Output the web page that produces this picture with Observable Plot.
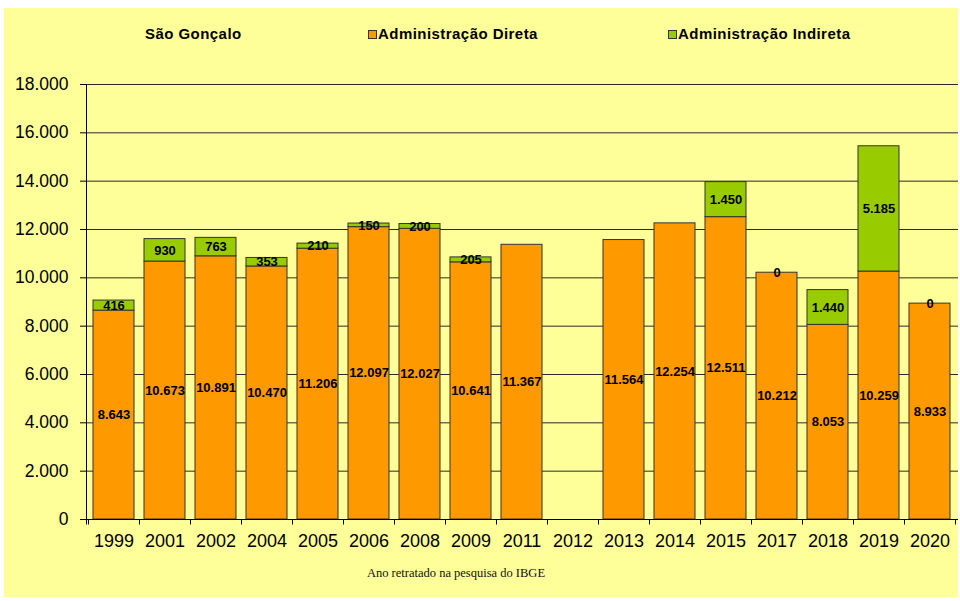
<!DOCTYPE html>
<html><head><meta charset="utf-8">
<script src="https://cdn.jsdelivr.net/npm/d3@7"></script>
<script src="https://cdn.jsdelivr.net/npm/@observablehq/plot@0.6"></script>
<style>
body{margin:0;background:#fff;}
#wrap{position:relative;width:960px;height:601px;overflow:hidden;font-family:"Liberation Sans",Arial,sans-serif;}
#bg{position:absolute;left:4px;top:8px;width:954px;height:589px;background:#FFFF99;}
.leg{position:absolute;top:25.5px;line-height:15px;font-weight:bold;font-size:15px;letter-spacing:0.45px;color:#000;white-space:nowrap;}
.sw{display:inline-block;width:7px;height:7px;border:1px solid #333;margin-right:1px;vertical-align:0px;}
#chart{position:absolute;left:0;top:60px;}
#cap{position:absolute;top:566px;left:0;width:912px;text-align:center;font-family:"Liberation Serif","Times New Roman",serif;font-size:12.5px;color:#111;}
</style></head>
<body>
<div id="wrap">
  <div id="bg"></div>
  <div class="leg" style="left:145px">São Gonçalo</div>
  <div class="leg" id="leg1" style="left:368px"></div>
  <div class="leg" id="leg2" style="left:668px"></div>
  <div id="chart"></div>
  <div id="cap">Ano retratado na pesquisa do IBGE</div>
</div>
<script>
const years = ["1999","2001","2002","2004","2005","2006","2008","2009","2011","2012","2013","2014","2015","2017","2018","2019","2020"];
const direta = [8643, 10673, 10891, 10470, 11206, 12097, 12027, 10641, 11367, null, 11564, 12254, 12511, 10212, 8053, 10259, 8933];
const indireta = [416, 930, 763, 353, 210, 150, 200, 205, null, null, null, null, 1450, 0, 1440, 5185, 0];
const seriesNames = ["Administração Direta", "Administração Indireta"];
const seriesColors = ["#FF9900", "#99CC00"];
const yTicks = [0, 2000, 4000, 6000, 8000, 10000, 12000, 14000, 16000, 18000];

const fmt = d3.formatLocale({decimal: ",", thousands: ".", grouping: [3], currency: ["R$", ""]}).format(",d");

// legend
[["leg1", 0], ["leg2", 1]].forEach(([id, i]) => {
  const el = document.getElementById(id);
  el.innerHTML = `<span class="sw" style="background:${seriesColors[i]}"></span>${seriesNames[i]}`;
});

// segments
const segs = [];
const labels = [];
years.forEach((yr, i) => {
  const d = direta[i], n = indireta[i];
  if (d != null) {
    segs.push({year: yr, serie: seriesNames[0], y1: 0, y2: d});
    labels.push({year: yr, y: d / 2, text: fmt(d)});
  }
  if (n != null) {
    const base = d || 0;
    segs.push({year: yr, serie: seriesNames[1], y1: base, y2: base + n});
    labels.push({year: yr, y: base + n / 2, text: fmt(n)});
  }
});

function axisLines(index, scales, values, dims) {
  const x = scales.x, y = scales.y;
  const g = d3.create("svg:g").attr("stroke", "#000").attr("stroke-width", 1).attr("fill", "none");
  const left = dims.marginLeft, right = dims.width - dims.marginRight;
  const y0 = Math.round(y(0)) + 0.5;
  const bw = x.bandwidth(), step = x.step();
  // y axis line
  g.append("line").attr("x1", left + 0.5).attr("x2", left + 0.5)
    .attr("y1", Math.round(y(18000))).attr("y2", y0 + 5);
  // x baseline
  g.append("line").attr("x1", left).attr("x2", right).attr("y1", y0).attr("y2", y0);
  // ticks at band boundaries
  const bounds = years.map(yr => x(yr) - (step - bw) / 2);
  bounds.push(x(years[years.length - 1]) + bw + (step - bw) / 2);
  bounds.forEach(b => {
    const xb = Math.round(b) + 0.5;
    g.append("line").attr("x1", xb).attr("x2", xb).attr("y1", y0).attr("y2", y0 + 5);
  });
  return g.node();
}

const chart = Plot.plot({
  width: 960,
  height: 500,
  marginTop: 24,
  marginBottom: 41,
  marginLeft: 86,
  marginRight: 2,
  style: {background: "transparent", fontFamily: "'Liberation Sans', Arial, sans-serif", overflow: "visible"},
  x: {domain: years, paddingInner: 0.19, paddingOuter: 0.095, align: 0.5, label: null},
  y: {domain: [0, 18000], label: null},
  color: {domain: seriesNames, range: seriesColors},
  marks: [
    Plot.ruleY(yTicks.filter(t => t > 0), {stroke: "#2a2a2a", strokeWidth: 1}),
    Plot.axisY({ticks: yTicks, tickFormat: fmt, tickSize: 6, tickPadding: 12, fontSize: 17.5, fill: "#000", stroke: "#000", label: null}),
    Plot.axisX({tickSize: 0, tickPadding: 15, fontSize: 18, fill: "#000", label: null}),
    Plot.barY(segs, {x: "year", y1: "y1", y2: "y2", fill: "serie", stroke: "#333", strokeWidth: 1}),
    axisLines,
    Plot.text(labels, {x: "year", y: "y", text: "text", fontWeight: "bold", fontSize: 13, fill: "#000"})
  ]
});
document.getElementById("chart").appendChild(chart);
</script>
</body></html>
